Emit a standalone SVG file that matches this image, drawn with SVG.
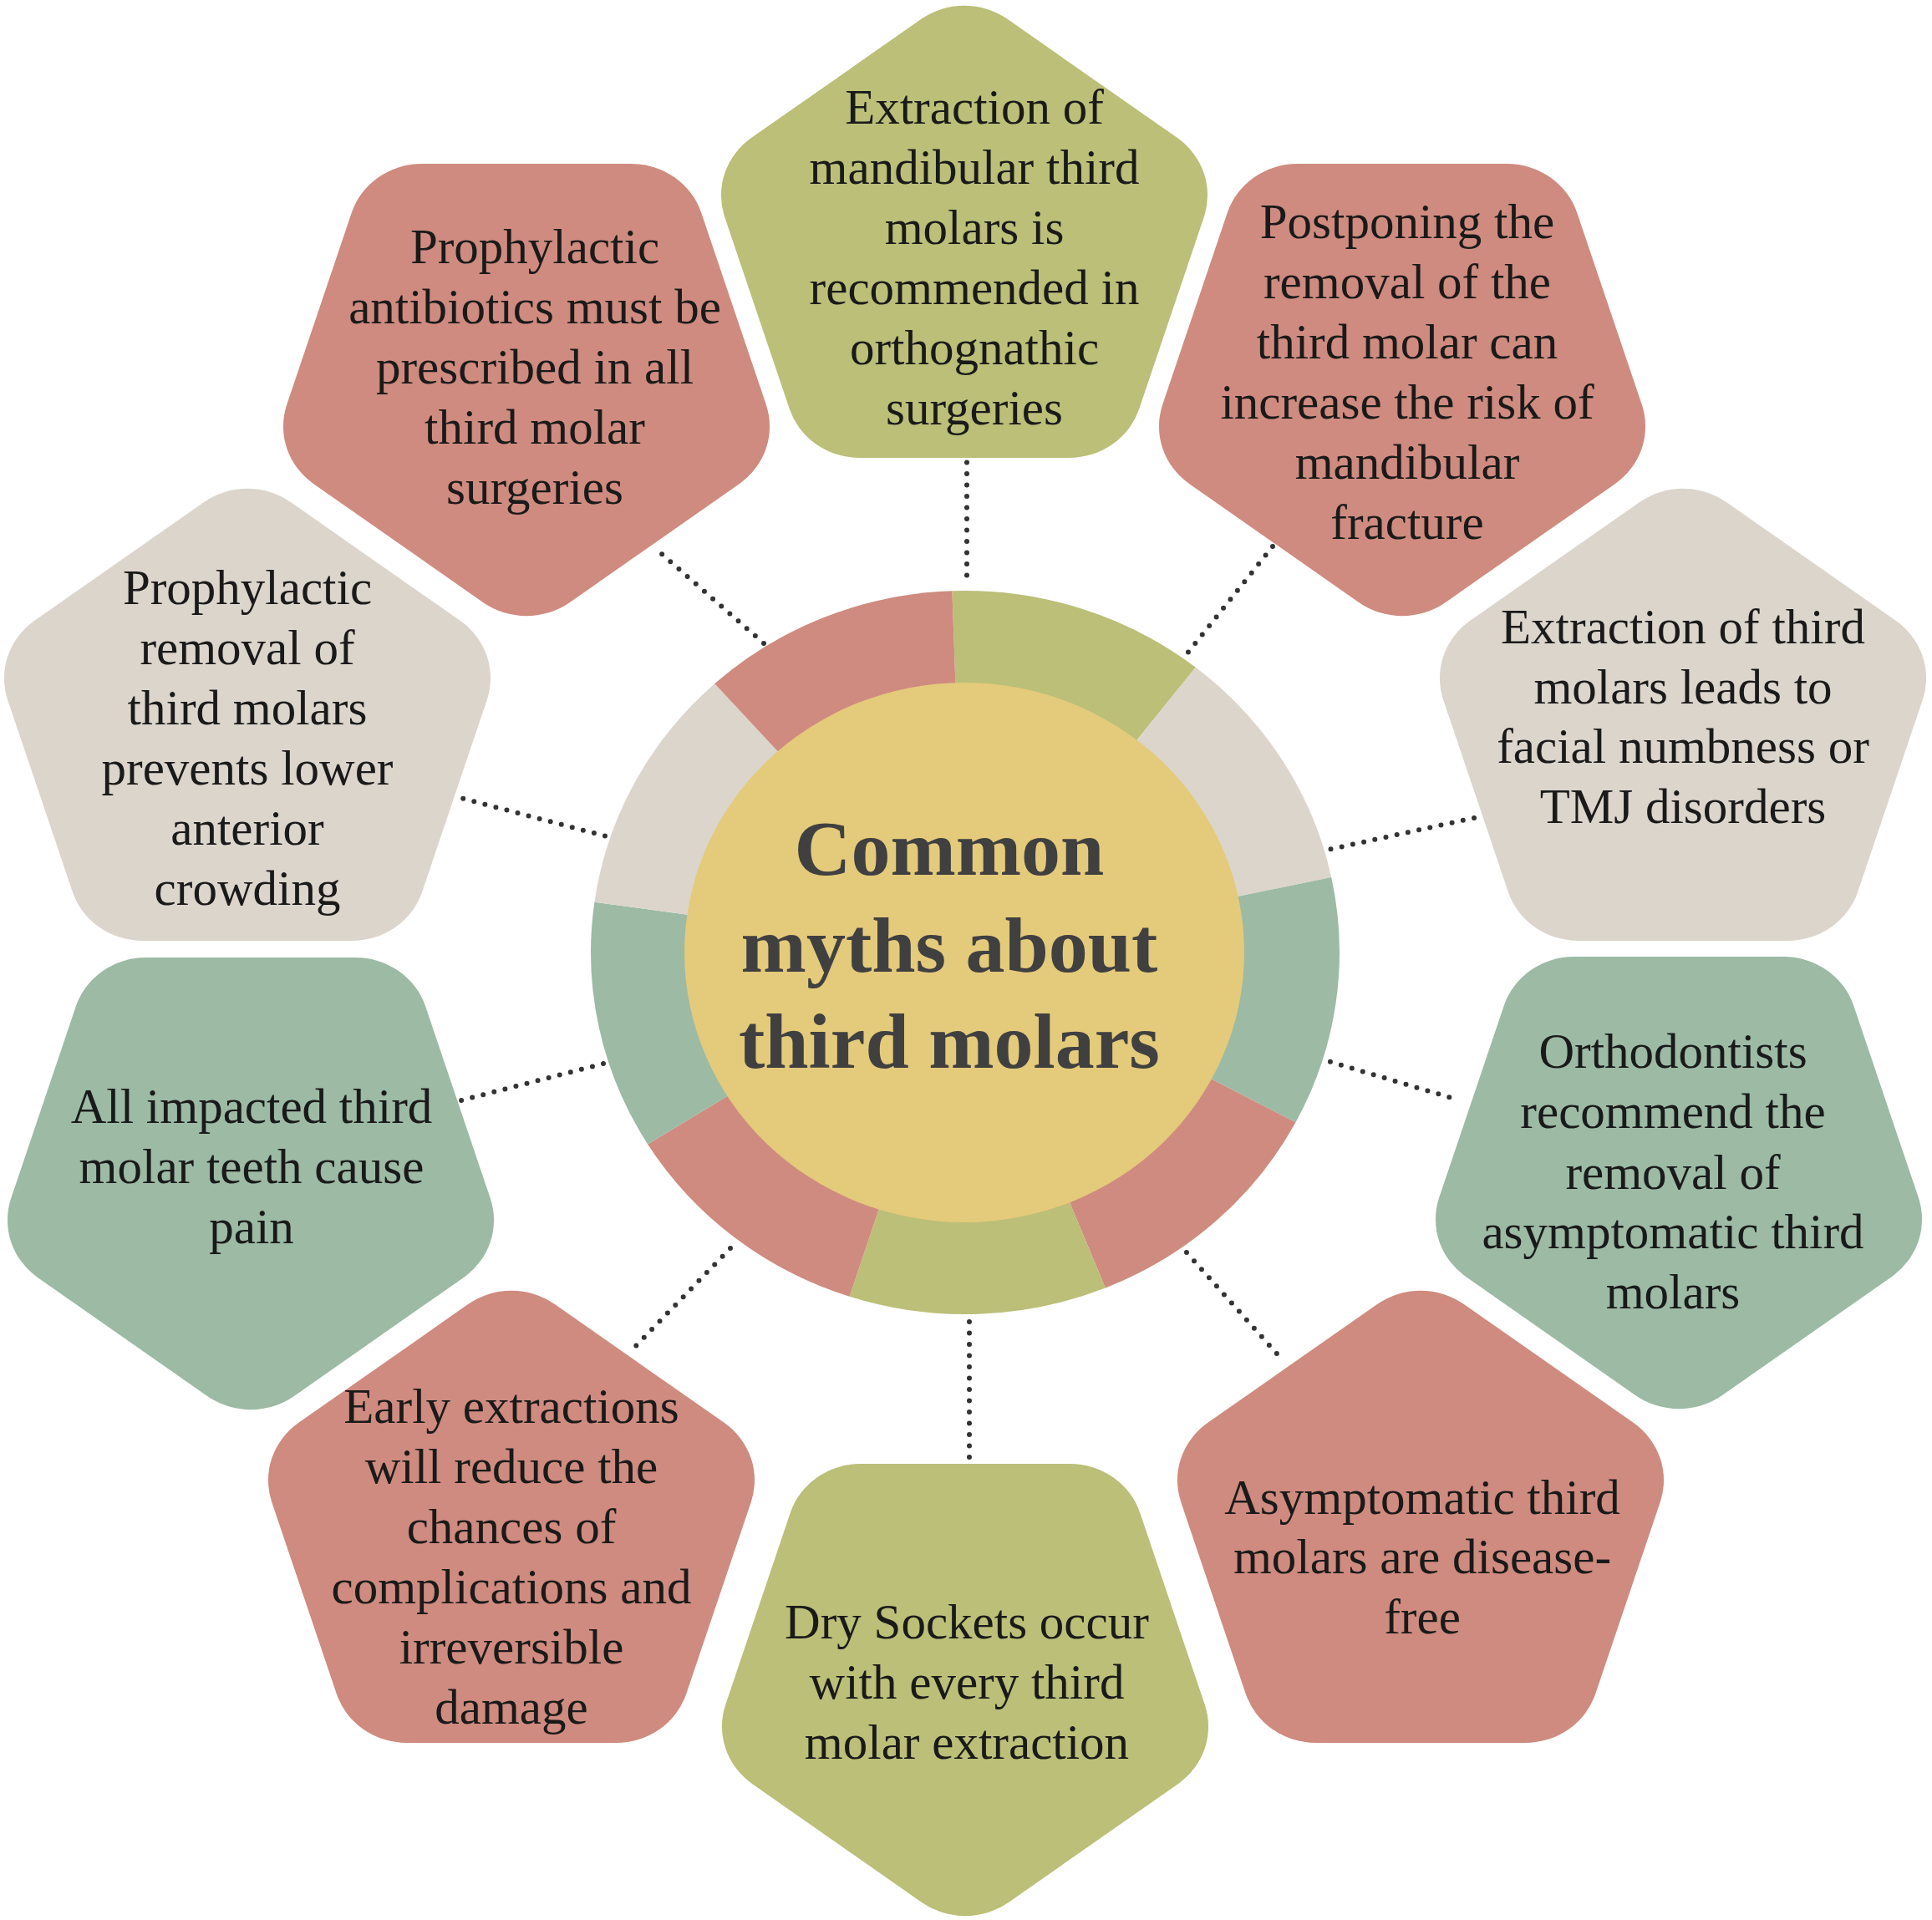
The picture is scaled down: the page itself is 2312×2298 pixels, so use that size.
<svg xmlns="http://www.w3.org/2000/svg" xmlns:xlink="http://www.w3.org/1999/xlink" width="2312" height="2298" viewBox="0 0 2312 2298">
<style>
.red{fill:#CF8B7F}
.grn{fill:#BBBF78}
.bei{fill:#DCD5CC}
.tea{fill:#9CBAA4}
.yel{fill:#E4CA7B}
.t{font-family:"Liberation Serif","Times New Roman",serif;font-size:59px;fill:#1a1a1a;text-anchor:middle}
.c{font-family:"Liberation Serif","Times New Roman",serif;font-size:94px;font-weight:bold;fill:#404040;text-anchor:middle}
.dot{fill:none;stroke:#333;stroke-width:6;stroke-linecap:round;stroke-dasharray:0 13.5}
</style>
<defs>
<path id="pent" d="M 49.96,-273.90 L 245.07,-132.15 A 85 85 0 0 1 275.95,-37.12 L 201.42,192.22 A 85 85 0 0 1 120.59,250.95 L -120.59,250.95 A 85 85 0 0 1 -201.42,192.22 L -275.95,-37.12 A 85 85 0 0 1 -245.07,-132.15 L -49.96,-273.90 A 85 85 0 0 1 49.96,-273.90 Z"/>
</defs>
<rect width="2312" height="2298" fill="#fff"/>

<g id="connectors">
<line class="dot" x1="1157" y1="540" x2="1157" y2="692"/>
<line class="dot" x1="1523" y1="654" x2="1416" y2="788"/>
<line class="dot" x1="1764" y1="979" x2="1580" y2="1019"/>
<line class="dot" x1="1579" y1="1267" x2="1747" y2="1317"/>
<line class="dot" x1="1411" y1="1489" x2="1535" y2="1628"/>
<line class="dot" x1="1160" y1="1582" x2="1160" y2="1751"/>
<line class="dot" x1="874" y1="1494" x2="755" y2="1617"/>
<line class="dot" x1="722" y1="1273" x2="552" y2="1317"/>
<line class="dot" x1="737" y1="1004" x2="551" y2="955"/>
<line class="dot" x1="914" y1="770" x2="785" y2="657"/>
</g>

<g id="center">
<path class="grn" d="M1155,1140 L1139.4,707.3 A448 433 0 0 1 1430.8,798.8 Z"/>
<path class="bei" d="M1155,1140 L1430.8,798.8 A448 433 0 0 1 1593.2,1050.0 Z"/>
<path class="tea" d="M1155,1140 L1593.2,1050.0 A448 433 0 0 1 1550.5,1343.3 Z"/>
<path class="red" d="M1155,1140 L1550.5,1343.3 A448 433 0 0 1 1322.8,1541.5 Z"/>
<path class="grn" d="M1155,1140 L1322.8,1541.5 A448 433 0 0 1 1016.6,1551.8 Z"/>
<path class="red" d="M1155,1140 L1016.6,1551.8 A448 433 0 0 1 775.1,1369.4 Z"/>
<path class="tea" d="M1155,1140 L775.1,1369.4 A448 433 0 0 1 711.4,1079.7 Z"/>
<path class="bei" d="M1155,1140 L711.4,1079.7 A448 433 0 0 1 855.2,818.2 Z"/>
<path class="red" d="M1155,1140 L855.2,818.2 A448 433 0 0 1 1139.4,707.3 Z"/>
<ellipse class="yel" cx="1154" cy="1140" rx="335" ry="323"/>
<text class="c" x="1136" y="1047">Common</text>
<text class="c" x="1136" y="1163">myths about</text>
<text class="c" x="1136" y="1278">third molars</text>
</g>

<g id="node1">
<use xlink:href="#pent" class="grn" transform="translate(1154,297) scale(1.039,1)"/>
<text class="t"><tspan x="1166" y="148">Extraction of</tspan><tspan x="1166" y="220">mandibular third</tspan><tspan x="1166" y="292">molars is</tspan><tspan x="1166" y="364">recommended in</tspan><tspan x="1166" y="436">orthognathic</tspan><tspan x="1166" y="508">surgeries</tspan></text>
</g>

<g id="node2">
<use xlink:href="#pent" class="red" transform="translate(1678,447) scale(1.039,-1)"/>
<text class="t"><tspan x="1684" y="285">Postponing the</tspan><tspan x="1684" y="357">removal of the</tspan><tspan x="1684" y="429">third molar can</tspan><tspan x="1684" y="501">increase the risk of</tspan><tspan x="1684" y="573">mandibular</tspan><tspan x="1684" y="645">fracture</tspan></text>
</g>

<g id="node3">
<use xlink:href="#pent" class="bei" transform="translate(2014,875) scale(1.039,1)"/>
<text class="t"><tspan x="2014" y="770">Extraction of third</tspan><tspan x="2014" y="842">molars leads to</tspan><tspan x="2014" y="913">facial numbness or</tspan><tspan x="2014" y="985">TMJ disorders</tspan></text>
</g>

<g id="node4">
<use xlink:href="#pent" class="tea" transform="translate(2009,1396) scale(1.039,-1)"/>
<text class="t"><tspan x="2002" y="1278">Orthodontists</tspan><tspan x="2002" y="1350">recommend the</tspan><tspan x="2002" y="1423">removal of</tspan><tspan x="2002" y="1494">asymptomatic third</tspan><tspan x="2002" y="1566">molars</tspan></text>
</g>

<g id="node5">
<use xlink:href="#pent" class="red" transform="translate(1700,1835) scale(1.039,1)"/>
<text class="t"><tspan x="1702" y="1812">Asymptomatic third</tspan><tspan x="1702" y="1883">molars are disease-</tspan><tspan x="1702" y="1955">free</tspan></text>
</g>

<g id="node6">
<use xlink:href="#pent" class="grn" transform="translate(1155,2003) scale(1.039,-1)"/>
<text class="t"><tspan x="1157" y="1961">Dry Sockets occur</tspan><tspan x="1157" y="2033">with every third</tspan><tspan x="1157" y="2105">molar extraction</tspan></text>
</g>

<g id="node7">
<use xlink:href="#pent" class="red" transform="translate(612,1835) scale(1.039,1)"/>
<text class="t"><tspan x="612" y="1703">Early extractions</tspan><tspan x="612" y="1775">will reduce the</tspan><tspan x="612" y="1847">chances of</tspan><tspan x="612" y="1919">complications and</tspan><tspan x="612" y="1991">irreversible</tspan><tspan x="612" y="2063">damage</tspan></text>
</g>

<g id="node8">
<use xlink:href="#pent" class="tea" transform="translate(300,1397) scale(1.039,-1)"/>
<text class="t"><tspan x="301" y="1344">All impacted third</tspan><tspan x="301" y="1416">molar teeth cause</tspan><tspan x="301" y="1488">pain</tspan></text>
</g>

<g id="node9">
<use xlink:href="#pent" class="bei" transform="translate(296,875) scale(1.039,1)"/>
<text class="t"><tspan x="296" y="723">Prophylactic</tspan><tspan x="296" y="795">removal of</tspan><tspan x="296" y="867">third molars</tspan><tspan x="296" y="939">prevents lower</tspan><tspan x="296" y="1011">anterior</tspan><tspan x="296" y="1083">crowding</tspan></text>
</g>

<g id="node10">
<use xlink:href="#pent" class="red" transform="translate(630,447) scale(1.039,-1)"/>
<text class="t"><tspan x="640" y="315">Prophylactic</tspan><tspan x="640" y="387">antibiotics must be</tspan><tspan x="640" y="459">prescribed in all</tspan><tspan x="640" y="531">third molar</tspan><tspan x="640" y="603">surgeries</tspan></text>
</g>
</svg>
